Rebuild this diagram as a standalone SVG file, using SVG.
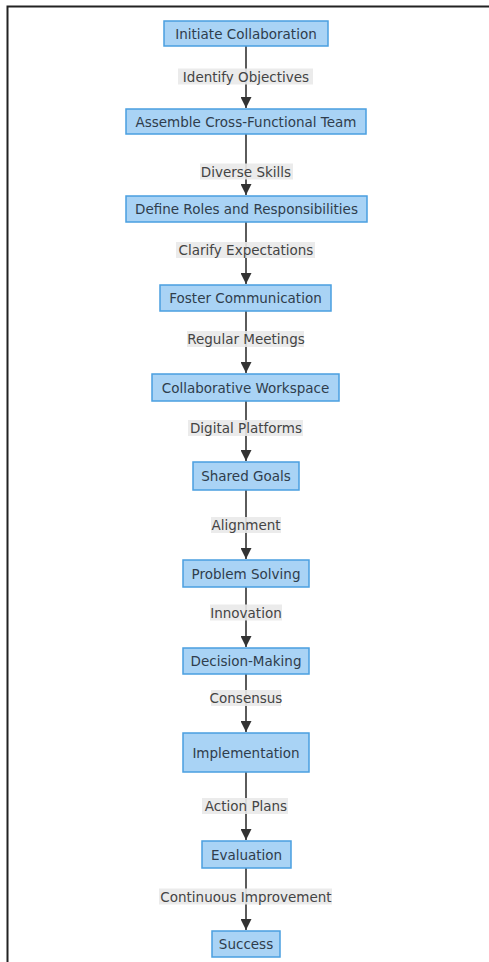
<svg xmlns="http://www.w3.org/2000/svg" width="489" height="962" viewBox="0 0 489 962">
<defs>
<style>
.node rect{fill:#a9d3f5;stroke:#4a9fe0;stroke-width:1.5}
.node text{font-family:"DejaVu Sans","Liberation Sans",sans-serif;font-size:13.5px;fill:#2f3d4c;text-anchor:middle;dominant-baseline:central}
.edge line{stroke:#333;stroke-width:1.6;fill:none}
.elabel rect{fill:#e9e9e9;opacity:0.9}
.elabel text{font-family:"DejaVu Sans","Liberation Sans",sans-serif;font-size:13.5px;fill:#444;text-anchor:middle;dominant-baseline:central}
.frame{stroke:#222;stroke-width:2;fill:none}
</style>
<marker id="arr" viewBox="0 0 10 10" refX="10" refY="5" markerWidth="11" markerHeight="11" markerUnits="userSpaceOnUse" orient="auto">
<path d="M0,0 L10,5 L0,10 z" fill="#333"/>
</marker>
</defs>
<rect width="489" height="962" fill="#ffffff"/>
<path class="frame" d="M7.5,962 V6.5 H489"/>

<g id="connectors" class="edge">
<line x1="246" y1="46" x2="246" y2="108" marker-end="url(#arr)"/>
<line x1="246" y1="134" x2="246" y2="195" marker-end="url(#arr)"/>
<line x1="246" y1="222" x2="246" y2="284" marker-end="url(#arr)"/>
<line x1="246" y1="311" x2="246" y2="373" marker-end="url(#arr)"/>
<line x1="246" y1="401" x2="246" y2="461" marker-end="url(#arr)"/>
<line x1="246" y1="490" x2="246" y2="559" marker-end="url(#arr)"/>
<line x1="246" y1="587" x2="246" y2="647" marker-end="url(#arr)"/>
<line x1="246" y1="674" x2="246" y2="732" marker-end="url(#arr)"/>
<line x1="246" y1="772" x2="246" y2="840" marker-end="url(#arr)"/>
<line x1="246" y1="868" x2="246" y2="930" marker-end="url(#arr)"/>
</g>

<g id="edge-labels">
<g class="elabel"><rect x="178" y="68.5" width="135" height="16"/><text x="246" y="76.5">Identify Objectives</text></g>
<g class="elabel"><rect x="200" y="163.5" width="93" height="16"/><text x="246" y="171.5">Diverse Skills</text></g>
<g class="elabel"><rect x="176" y="242" width="139" height="16"/><text x="246" y="250">Clarify Expectations</text></g>
<g class="elabel"><rect x="187" y="331" width="117" height="16"/><text x="246" y="339">Regular Meetings</text></g>
<g class="elabel"><rect x="188" y="420" width="115" height="16"/><text x="246" y="428">Digital Platforms</text></g>
<g class="elabel"><rect x="211" y="517" width="70" height="16"/><text x="246" y="525">Alignment</text></g>
<g class="elabel"><rect x="210" y="604.5" width="72" height="16"/><text x="246" y="612.5">Innovation</text></g>
<g class="elabel"><rect x="211" y="690" width="70" height="16"/><text x="246" y="698">Consensus</text></g>
<g class="elabel"><rect x="202" y="798" width="86" height="16"/><text x="246" y="806">Action Plans</text></g>
<g class="elabel"><rect x="159" y="888.5" width="173" height="16"/><text x="246" y="896.5">Continuous Improvement</text></g>
</g>

<g id="n1" class="node"><rect x="164" y="21" width="164" height="25"/><text x="246" y="33.5">Initiate Collaboration</text></g>
<g id="n2" class="node"><rect x="126" y="109" width="240" height="25"/><text x="246" y="121.5">Assemble Cross-Functional Team</text></g>
<g id="n3" class="node"><rect x="126" y="196" width="241" height="26"/><text x="246.5" y="209">Define Roles and Responsibilities</text></g>
<g id="n4" class="node"><rect x="160" y="285" width="171" height="26"/><text x="245.5" y="298">Foster Communication</text></g>
<g id="n5" class="node"><rect x="152" y="374" width="187" height="27"/><text x="245.5" y="387.5">Collaborative Workspace</text></g>
<g id="n6" class="node"><rect x="193" y="462" width="106" height="28"/><text x="246" y="476">Shared Goals</text></g>
<g id="n7" class="node"><rect x="183" y="560" width="126" height="27"/><text x="246" y="573.5">Problem Solving</text></g>
<g id="n8" class="node"><rect x="183" y="648" width="126" height="26"/><text x="246" y="661">Decision-Making</text></g>
<g id="n9" class="node"><rect x="183" y="733" width="126" height="39"/><text x="246" y="752.5">Implementation</text></g>
<g id="n10" class="node"><rect x="202" y="841" width="89" height="27"/><text x="246.5" y="854.5">Evaluation</text></g>
<g id="n11" class="node"><rect x="212" y="931" width="68" height="26"/><text x="246" y="944">Success</text></g>
</svg>
